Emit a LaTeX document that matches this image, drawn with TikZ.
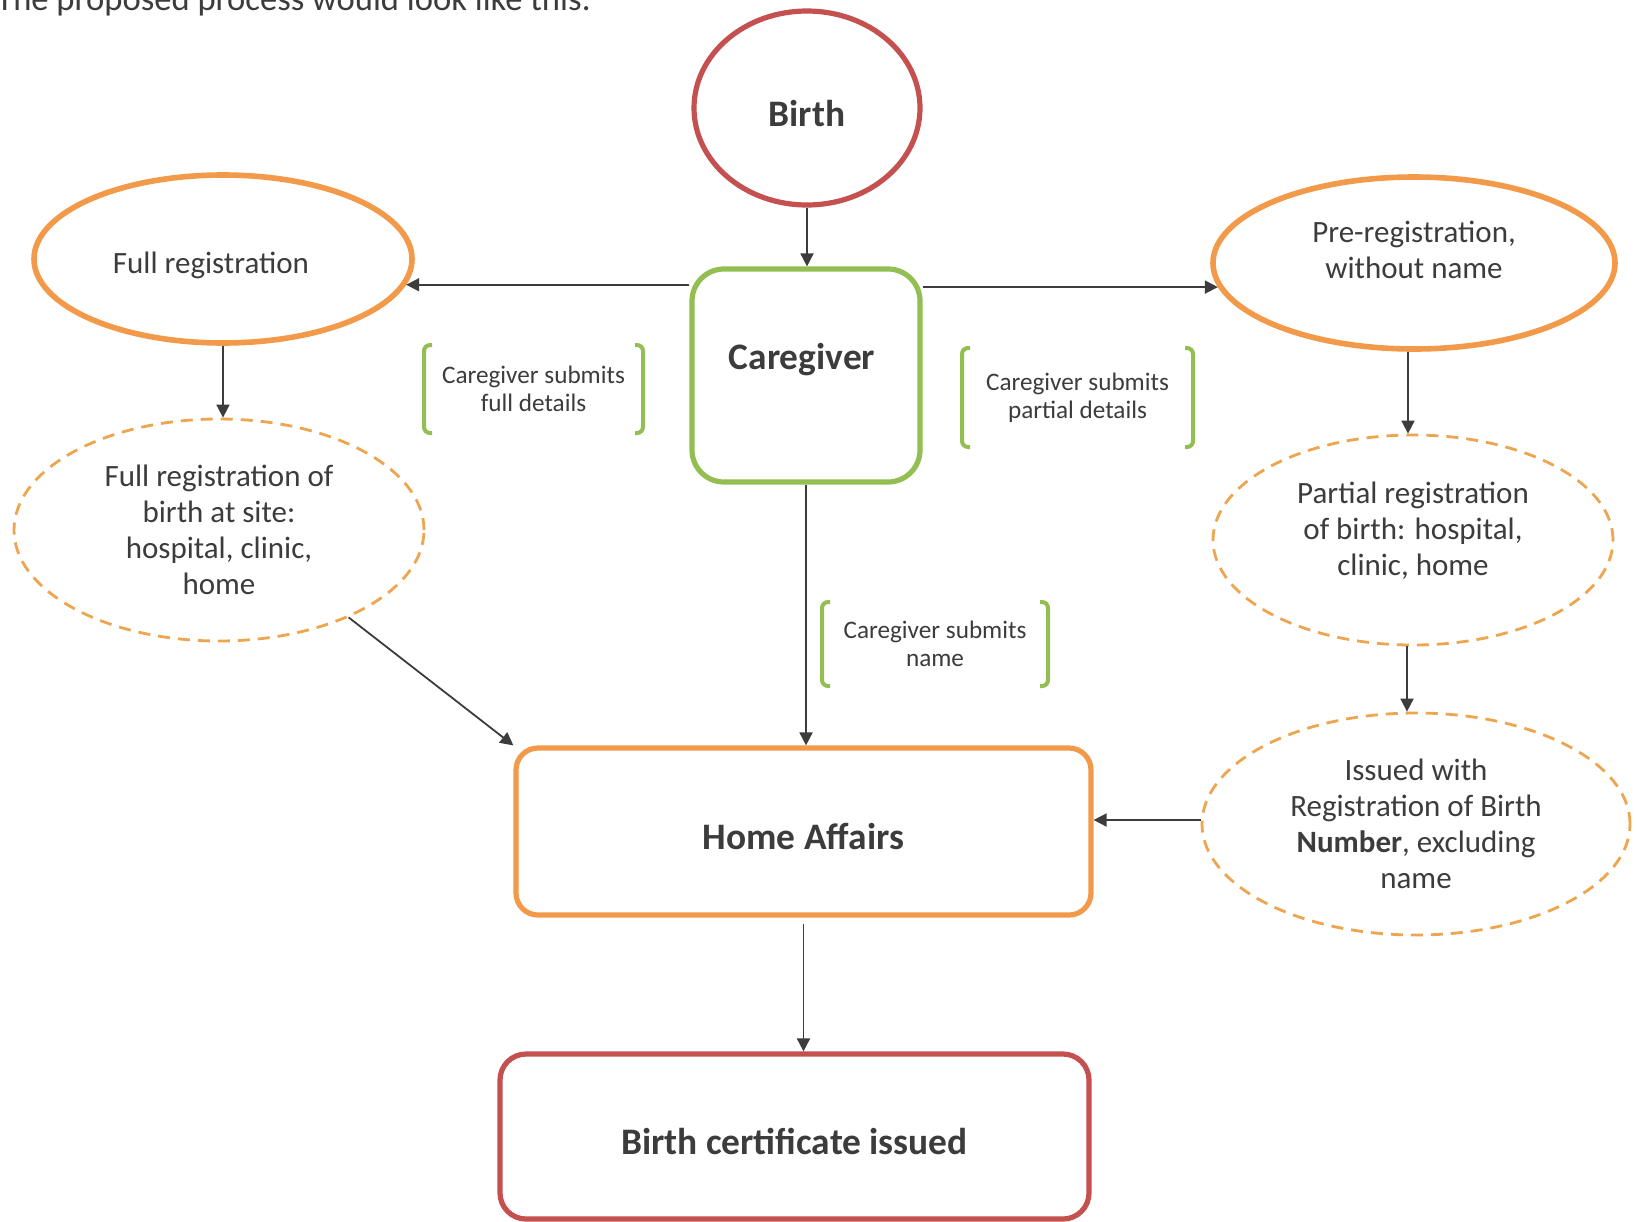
\documentclass[tikz,border=0pt]{standalone}
\usepackage{fontspec}
\setmainfont{Carlito}
\usetikzlibrary{positioning,calc,arrows.meta,shapes.geometric}
\definecolor{CRed}{HTML}{C4504F}
\definecolor{COrange}{HTML}{F39A4A}
\definecolor{CSand}{HTML}{EDA64F}
\definecolor{CGreen}{HTML}{92BE52}
\definecolor{CInk}{HTML}{3C3C3C}
\newcommand{\sidebrackets}[1]{%
  \draw[brk] ([xshift=4pt]#1.north west) -- (#1.north west) -- (#1.south west) -- ([xshift=4pt]#1.south west);
  \draw[brk] ([xshift=-4pt]#1.north east) -- (#1.north east) -- (#1.south east) -- ([xshift=-4pt]#1.south east);}

\begin{document}
\begin{tikzpicture}[x=0.5pt, y=-0.5pt,
  txt/.style={font=\fontsize{15.5}{17.9}\selectfont, text=CInk, align=center, inner sep=0pt},
  boldtxt/.style={font=\fontsize{18.7}{22}\selectfont\bfseries, text=CInk, align=center, inner sep=0pt},
  ring/.style={ellipse, draw=CRed, line width=2.6pt, boldtxt, text height=18pt, text depth=0pt},
  oval/.style={ellipse, draw=COrange, line width=2.8pt, txt},
  dashoval/.style={ellipse, draw=CSand, line width=1.4pt, dash pattern=on 6pt off 4pt, txt},
  roundbox/.style={rectangle, line width=2.6pt, boldtxt, text height=18pt, text depth=0pt},
  note/.style={font=\fontsize{12.6}{14.1}\selectfont, text=CInk, align=center, inner sep=0pt, outer sep=0pt},
  brk/.style={draw=CGreen, line width=2pt, rounded corners=3pt},
  arr/.style={draw=CInk, line width=0.9pt, -{Triangle[length=6.5pt,width=6.5pt]}}]
\clip (0,0) rectangle (1637,1221);
\fill[white] (0,0) rectangle (1637,1221);
\node[anchor=base west, font=\fontsize{17.3}{20}\selectfont, text=CInk, inner sep=0pt] (intro) at (-4,10) {The proposed process would look like this:};
\node[ring, minimum width=113pt, minimum height=97pt] (birth) at (807,108) {Birth};
\node[roundbox, draw=CGreen, minimum width=114pt, minimum height=106.5pt, rounded corners=16pt] (caregiver) at (806,375.5) {};
\node[boldtxt] (cgname) at (802,360) {Caregiver};
\node[roundbox, draw=COrange, minimum width=287.5pt, minimum height=83.5pt, rounded corners=11pt] (home) at (803.5,831.5) {Home Affairs};
\node[roundbox, draw=CRed, minimum width=294.5pt, minimum height=82.5pt, rounded corners=13pt] (cert) at (794.5,1136.5) {Birth certificate issued};
\node[oval, minimum width=189pt, minimum height=84pt] (fullreg) at (223,259) {};
\node[txt] (fullregtext) at (211,265) {Full registration};
\node[oval, minimum width=201pt, minimum height=86pt] (prereg) at (1414,263) {};
\node[txt] (preregtext) at (1414,249.5) {Pre-registration,\\without name};
\node[dashoval, minimum width=205pt, minimum height=111pt] (fullsite) at (219,530) {Full registration of\\birth at site:\\hospital, clinic,\\home};
\node[dashoval, minimum width=200pt, minimum height=105pt] (partial) at (1413,540) {};
\node[txt] (partialtext) at (1413,530.5) {Partial registration\\of birth: hospital,\\clinic, home};
\node[dashoval, minimum width=214pt, minimum height=111pt] (issued) at (1416,824) {Issued with\\Registration of Birth\\\textbf{Number}, excluding\\name};
\node[note, minimum width=109.5pt, minimum height=44pt] (subfull) at (533.5,389) {Caregiver submits\\full details};
\node[note, minimum width=115.5pt, minimum height=49.5pt] (subpart) at (1077.5,397.5) {Caregiver submits\\partial details};
\node[note, minimum width=113pt, minimum height=42pt] (subname) at (935,644) {Caregiver submits\\name};
\sidebrackets{subfull}
\sidebrackets{subpart}
\sidebrackets{subname}
\draw[arr] (birth.south) -- (birth.south |- caregiver.north);
\draw[arr] (fullreg.-8 -| caregiver.west) -- (fullreg.-8);
\draw[arr] (prereg.187 -| caregiver.east) -- (prereg.187);
\draw[arr] (fullreg.south) -- (fullreg.south |- fullsite.north);
\draw[arr] ([xshift=-3pt]prereg.south) -- ([xshift=-3pt]prereg.south |- partial.north);
\draw[arr] ([xshift=-3pt]partial.south) -- ([xshift=-3pt]partial.south |- issued.north);
\draw[arr] ([yshift=2pt]issued.west) -- ([yshift=2pt]issued.west -| home.east);
\draw[arr] (fullsite.-34) -- (home.north west);
\draw[arr] (caregiver.south) -- (caregiver.south |- home.north);
\draw[arr] ([yshift=-3pt]home.south) -- (home.south |- cert.north);
\end{tikzpicture}
\end{document}
